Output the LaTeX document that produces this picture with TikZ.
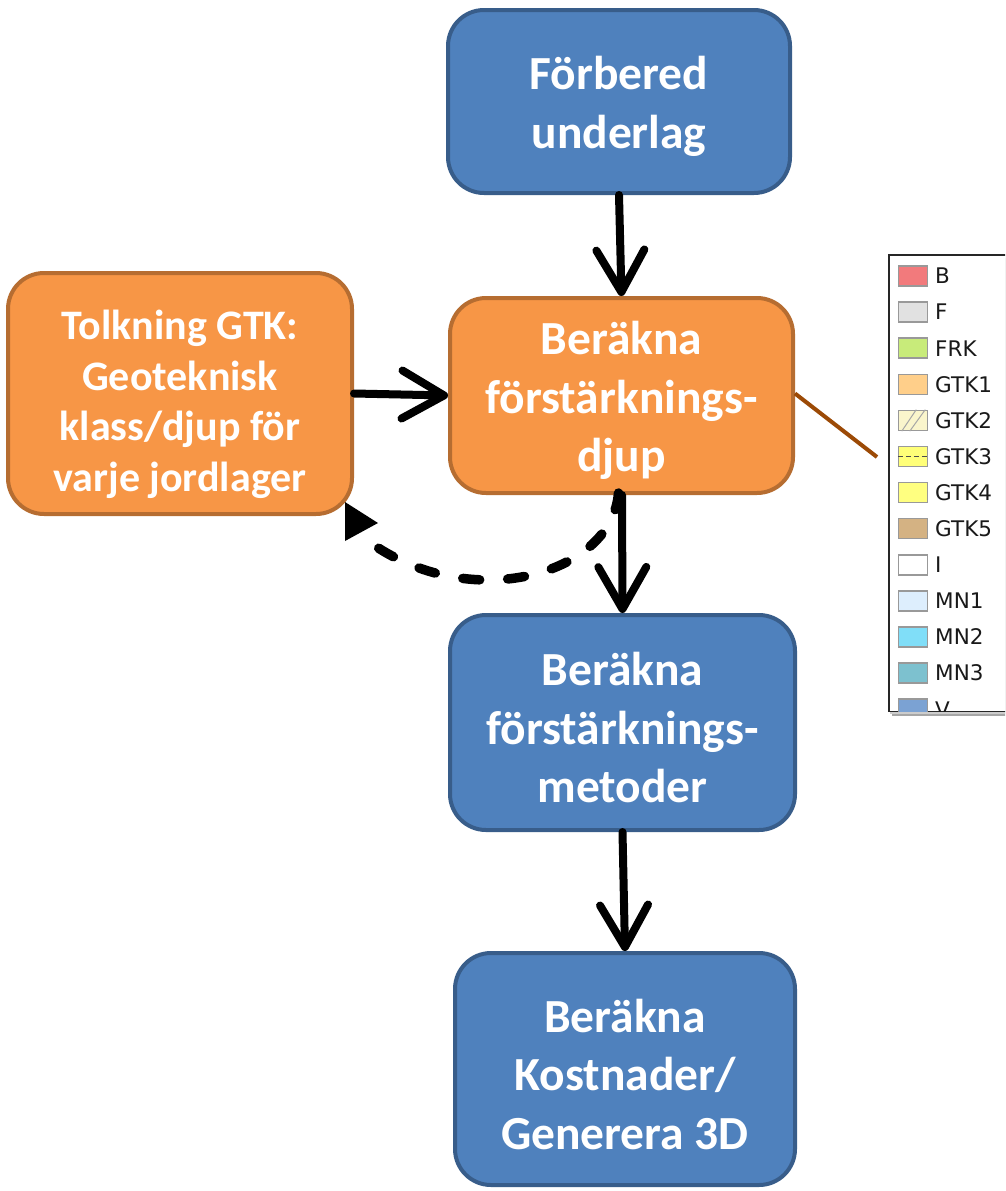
\documentclass[tikz,border=0pt]{standalone}
\usepackage{fontspec}
\setmainfont{Carlito}
\newfontfamily\legfont{DejaVu Sans}
\usetikzlibrary{arrows.meta}
\definecolor{bfill}{HTML}{4F81BD}
\definecolor{bline}{HTML}{385D8A}
\definecolor{ofill}{HTML}{F79646}
\definecolor{oline}{HTML}{B66D31}
\definecolor{leadc}{HTML}{9C4A06}
\definecolor{cB}{HTML}{F27A7C}
\definecolor{cF}{HTML}{E1E1E1}
\definecolor{cFRK}{HTML}{C8EB7A}
\definecolor{cGTKa}{HTML}{FFCF8A}
\definecolor{cGTKb}{HTML}{FAF5CC}
\definecolor{cGTKc}{HTML}{FFFF78}
\definecolor{cGTKd}{HTML}{FFFF80}
\definecolor{cGTKe}{HTML}{D4B283}
\definecolor{cI}{HTML}{FFFFFF}
\definecolor{cMNa}{HTML}{DDEEFD}
\definecolor{cMNb}{HTML}{80DEF8}
\definecolor{cMNc}{HTML}{7DC1CF}
\definecolor{cV}{HTML}{7BA2D3}
\tikzset{
  box/.style={rounded corners=36pt, line width=4pt, inner sep=0pt},
  boxtext/.style={inner sep=0pt, align=center, text=white, yshift=-5pt,
    font=\bfseries\fontsize{47.5}{58.5}\selectfont},
  smalltext/.style={boxtext, yshift=-6pt, font=\bfseries\fontsize{42}{50.5}\selectfont},
  bluebox/.style={box, fill=bfill, draw=bline},
  orangebox/.style={box, fill=ofill, draw=oline},
  arr/.style={line width=8pt, line cap=round, -{Straight Barb[length=42pt,width=48pt,round]}},
  dasharr/.style={line width=9.5pt, line cap=round, dash pattern=on 17pt off 28pt},
  swatch/.style={draw=gray!80, line width=1.5pt},
  legtext/.style={anchor=west, inner sep=0pt, text=black!90, font=\legfont\fontsize{21.5}{23}\selectfont}
}
\begin{document}
\begin{tikzpicture}[x=1pt,y=-1pt]
\useasboundingbox (0,0) rectangle (1005,1191);
% nodes
\node[bluebox, minimum width=342pt, minimum height=183pt,
  label={[boxtext]center:Förbered\\underlag}] (top) at (619,101.5) {};
\node[orangebox, minimum width=343pt, minimum height=195pt,
  label={[boxtext]center:Beräkna\\förstärknings-\\djup}] (mid) at (621.5,395.5) {};
\node[orangebox, minimum width=344pt, minimum height=241pt,
  label={[smalltext]center:Tolkning GTK:\\Geoteknisk\\klass/djup för\\varje jordlager}] (left) at (180,393.5) {};
\node[bluebox, minimum width=345pt, minimum height=215pt,
  label={[boxtext]center:Beräkna\\förstärknings-\\metoder}] (met) at (622.5,722.5) {};
\node[bluebox, minimum width=340pt, minimum height=232pt,
  label={[boxtext]center:Beräkna\\Kostnader/\\Generera 3D}] (cost) at (625,1069) {};
% arrows
\draw[arr] (top.south) -- (mid.north);
\draw[arr] (left.east) -- (mid.west);
\draw[arr] ([xshift=0.5pt]mid.south) -- (met.north);
\draw[arr] (met.south) -- (cost.north);
% dashed feedback
\coordinate (dashend) at (368,541);
\draw[dasharr] ([xshift=-3pt,yshift=2pt]mid.south) .. controls (612,575) and (470,615) .. (dashend);
\fill (345,502) -- (378,523) -- (345,541) -- cycle;
% lead line
\coordinate (leadend) at (877,457);
\draw[leadc, line width=4pt] ([yshift=2pt]mid.east) -- (leadend);
% legend
\begin{scope}
\clip (880,245) rectangle (1005,730);
\fill[black!35] (892,258) rectangle (1012,716);
\fill[black!20] (890,256) rectangle (1010,714);
\draw[fill=white, draw=black!85, line width=1.5pt] (889,255) rectangle (1010,711.5);
\clip (889,255) rectangle (1010,711);
\foreach \c/\t [count=\i from 0] in {cB/B,cF/F,cFRK/FRK,cGTKa/GTK1,cGTKb/GTK2,cGTKc/GTK3,cGTKd/GTK4,cGTKe/GTK5,cI/I,cMNa/MN1,cMNb/MN2,cMNc/MN3,cV/V}{
  \pgfmathsetmacro{\yy}{276+36.1*\i}
  \node[swatch, fill=\c, minimum width=29pt, minimum height=20pt, inner sep=0pt] (sw\i) at (913,\yy) {};
  \node[legtext] (lt\i) at (935,\yy) {\t};
}
% GTK2 hatch
\draw[gray!70, line width=1pt] ([xshift=4pt]sw4.south west) -- ([xshift=-12pt]sw4.north east);
\draw[gray!70, line width=1pt] ([xshift=12pt]sw4.south west) -- ([xshift=-3pt]sw4.north east);
% GTK3 dashed mid-line
\draw[black!70, line width=1.2pt, dash pattern=on 5pt off 3pt] (sw5.west) -- (sw5.east);
\end{scope}
\end{tikzpicture}
\end{document}
